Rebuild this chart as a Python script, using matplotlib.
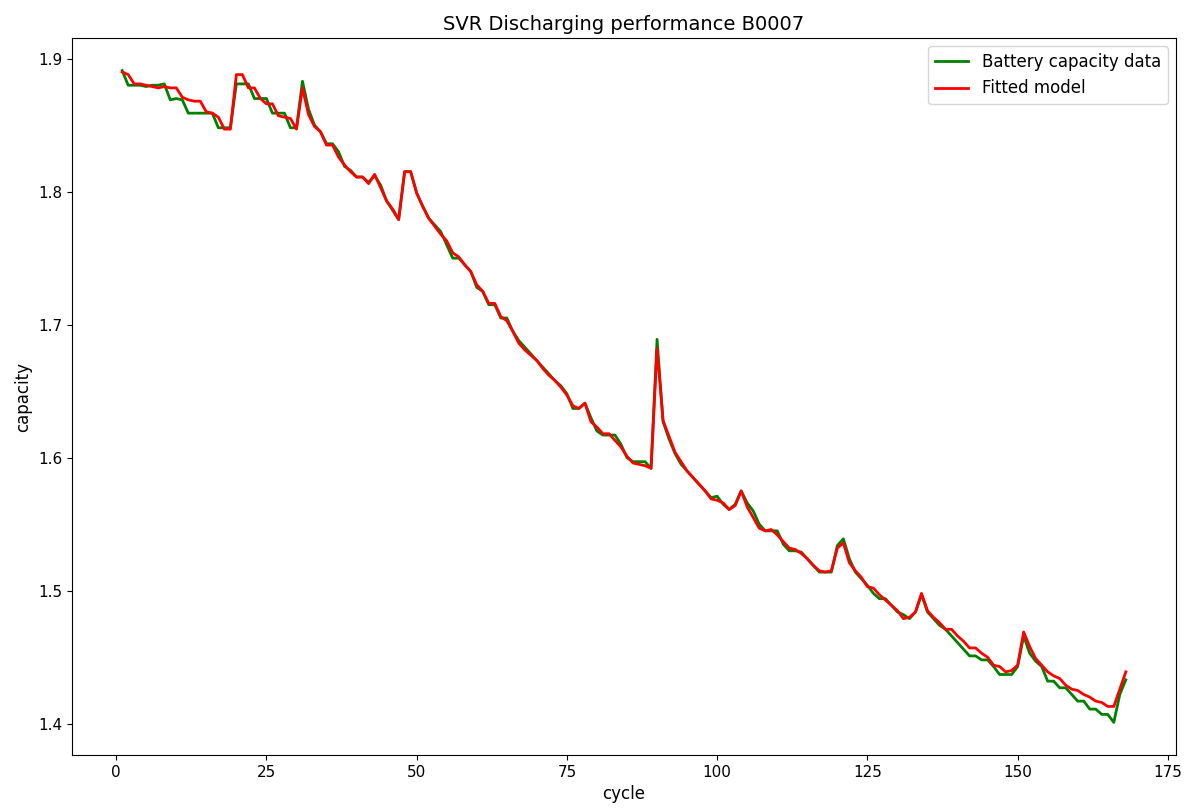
import numpy as np
import matplotlib
matplotlib.use("Agg")
import matplotlib.pyplot as plt

capacity = [1.891, 1.880, 1.880, 1.880, 1.879, 1.880, 1.880, 1.881, 1.869, 1.870,
            1.869, 1.859, 1.859, 1.859, 1.859, 1.859, 1.848, 1.848, 1.848, 1.881,
            1.881, 1.881, 1.870, 1.870, 1.870, 1.859, 1.859, 1.859, 1.848, 1.848,
            1.883, 1.862, 1.850, 1.845, 1.836, 1.836, 1.830, 1.819, 1.816, 1.811,
            1.811, 1.807, 1.812, 1.805, 1.793, 1.786, 1.779, 1.815, 1.815, 1.799,
            1.789, 1.780, 1.775, 1.770, 1.760, 1.750, 1.750, 1.745, 1.740, 1.728,
            1.725, 1.715, 1.715, 1.705, 1.705, 1.695, 1.688, 1.683, 1.678, 1.673,
            1.668, 1.663, 1.658, 1.654, 1.648, 1.637, 1.637, 1.641, 1.630, 1.620,
            1.617, 1.617, 1.617, 1.610, 1.600, 1.597, 1.597, 1.597, 1.592, 1.689,
            1.627, 1.614, 1.603, 1.595, 1.590, 1.585, 1.580, 1.575, 1.570, 1.571,
            1.565, 1.561, 1.565, 1.575, 1.566, 1.560, 1.550, 1.545, 1.545, 1.545,
            1.535, 1.530, 1.530, 1.529, 1.524, 1.519, 1.514, 1.514, 1.514, 1.534,
            1.539, 1.524, 1.514, 1.509, 1.504, 1.498, 1.494, 1.494, 1.489, 1.484,
            1.482, 1.479, 1.484, 1.497, 1.484, 1.479, 1.474, 1.471, 1.466, 1.461,
            1.456, 1.451, 1.451, 1.448, 1.448, 1.443, 1.437, 1.437, 1.437, 1.443,
            1.466, 1.453, 1.447, 1.443, 1.432, 1.432, 1.427, 1.427, 1.422, 1.417,
            1.417, 1.411, 1.411, 1.407, 1.407, 1.401, 1.422, 1.433]

fitted = [1.890, 1.888, 1.881, 1.881, 1.880, 1.879, 1.878, 1.879, 1.878, 1.878,
          1.871, 1.869, 1.868, 1.868, 1.860, 1.859, 1.856, 1.847, 1.847, 1.888,
          1.888, 1.878, 1.878, 1.870, 1.866, 1.866, 1.857, 1.856, 1.855, 1.847,
          1.878, 1.858, 1.849, 1.845, 1.835, 1.835, 1.826, 1.820, 1.815, 1.811,
          1.811, 1.806, 1.813, 1.803, 1.793, 1.787, 1.779, 1.815, 1.815, 1.799,
          1.789, 1.780, 1.774, 1.768, 1.763, 1.754, 1.751, 1.745, 1.740, 1.730,
          1.725, 1.716, 1.716, 1.706, 1.703, 1.695, 1.686, 1.681, 1.677, 1.673,
          1.667, 1.662, 1.658, 1.653, 1.647, 1.639, 1.637, 1.641, 1.627, 1.623,
          1.618, 1.618, 1.613, 1.608, 1.601, 1.596, 1.595, 1.594, 1.592, 1.682,
          1.628, 1.616, 1.604, 1.597, 1.590, 1.585, 1.580, 1.575, 1.569, 1.568,
          1.566, 1.561, 1.564, 1.575, 1.563, 1.555, 1.547, 1.545, 1.546, 1.542,
          1.537, 1.532, 1.531, 1.528, 1.524, 1.519, 1.515, 1.514, 1.515, 1.532,
          1.536, 1.521, 1.515, 1.510, 1.503, 1.502, 1.497, 1.493, 1.489, 1.485,
          1.479, 1.480, 1.484, 1.498, 1.485, 1.480, 1.476, 1.471, 1.471, 1.466,
          1.462, 1.457, 1.457, 1.453, 1.450, 1.444, 1.443, 1.439, 1.440, 1.444,
          1.469, 1.458, 1.449, 1.444, 1.439, 1.436, 1.434, 1.429, 1.426, 1.425,
          1.422, 1.420, 1.417, 1.416, 1.413, 1.413, 1.426, 1.439]

cycles = np.arange(1, len(capacity) + 1)

fig = plt.figure(figsize=(11.95, 8.11), dpi=100)
ax = fig.add_axes([72 / 1195, 1 - 755 / 811, (1176 - 72) / 1195, (755 - 38) / 811])
ax.plot(cycles, capacity, color="green", lw=2, label="Battery capacity data")
ax.plot(cycles, fitted, color="red", lw=2, label="Fitted model")
ax.set_title("SVR Discharging performance B0007", fontsize=14)
ax.set_xlabel("cycle", fontsize=12)
ax.set_ylabel("capacity", fontsize=12)
ax.tick_params(labelsize=11)
ax.legend(loc="upper right", fontsize=12)
fig.savefig("out.png", dpi=100)
